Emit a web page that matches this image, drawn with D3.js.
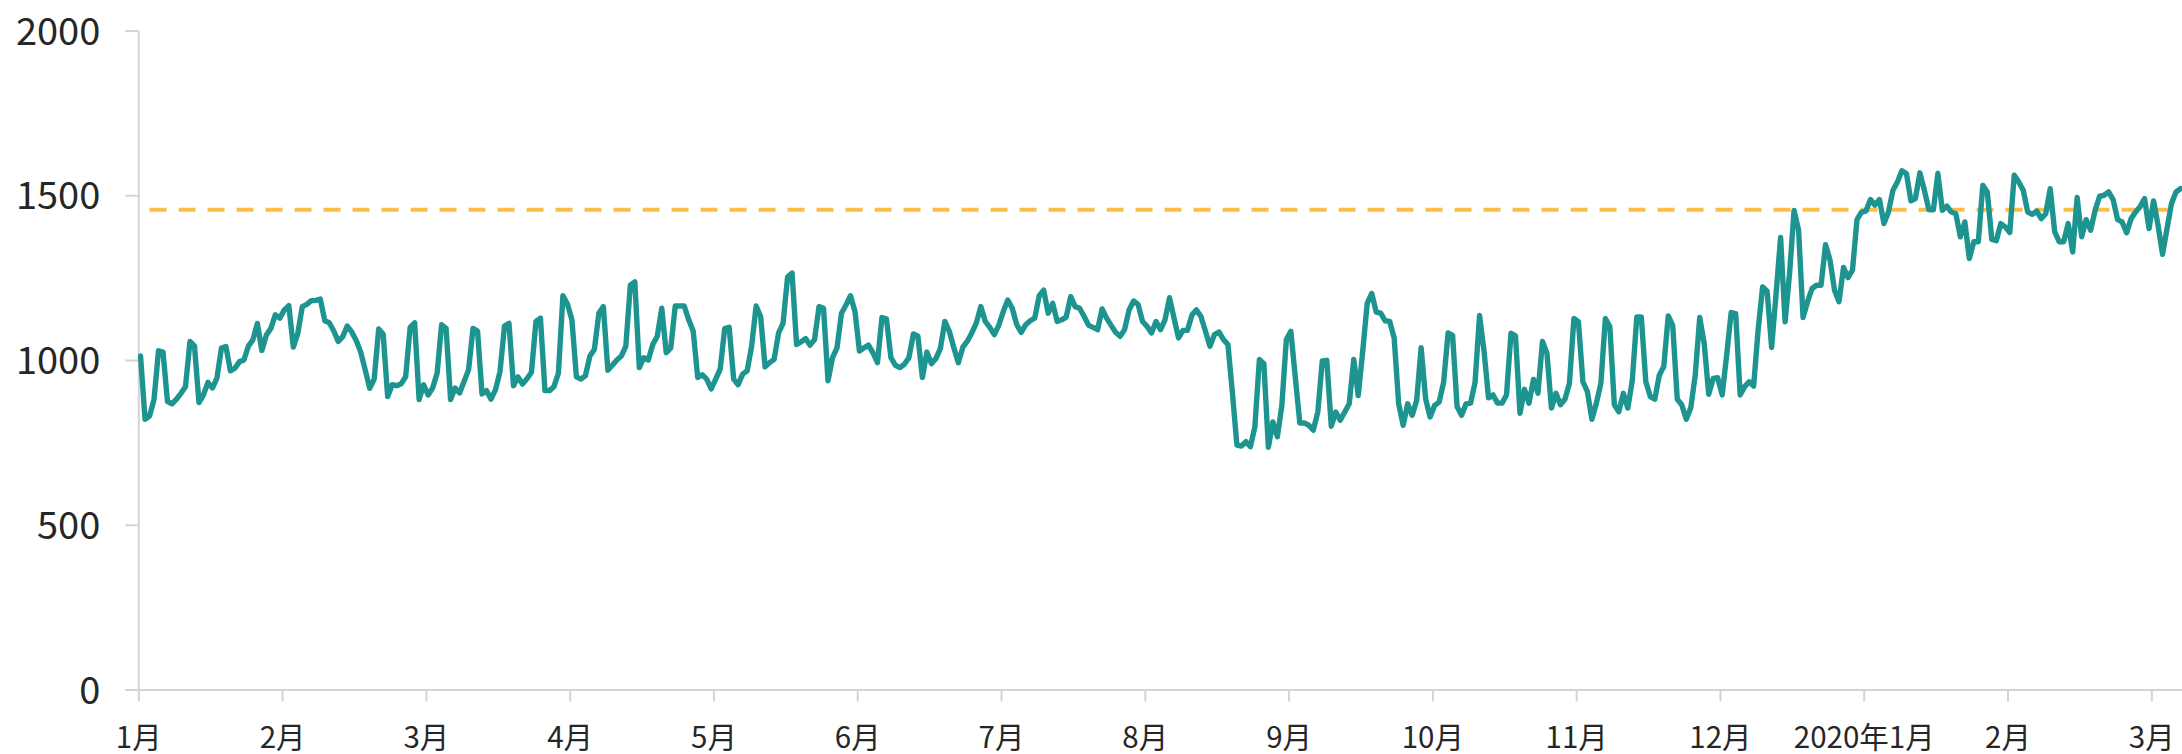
<!DOCTYPE html>
<html>
<head>
<meta charset="utf-8">
<script src="https://cdn.jsdelivr.net/npm/d3@7"></script>
<style>
  html, body { margin: 0; padding: 0; background: #ffffff; }
  svg { display: block; }
</style>
</head>
<body>
<div id="chart"></div>
<script>
// ---- data ----
const values = [
  1012, 820, 830, 880, 1028, 1024, 874, 867, 881, 899,
  919, 1056, 1043, 871, 894, 932, 915, 945, 1036, 1041,
  967, 975, 995, 1000, 1042, 1061, 1111, 1029, 1076, 1096,
  1137, 1127, 1152, 1165, 1039, 1081, 1162, 1169, 1180, 1181,
  1185, 1119, 1113, 1088, 1056, 1071, 1103, 1085, 1059, 1024,
  970, 914, 942, 1094, 1078, 889, 925, 922, 928, 949,
  1099, 1113, 880, 925, 894, 915, 960, 1107, 1096, 880,
  915, 900, 935, 970, 1096, 1088, 897, 907, 881, 910,
  965, 1103, 1111, 922, 949, 927, 943, 963, 1117, 1127,
  907, 907, 919, 960, 1195, 1170, 1122, 949, 942, 952,
  1012, 1032, 1142, 1162, 969, 984, 1000, 1012, 1042, 1227,
  1237, 977, 1007, 1000, 1047, 1072, 1157, 1022, 1037, 1164,
  1164, 1164, 1122, 1087, 947, 955, 942, 912, 942, 972,
  1095, 1099, 942, 925, 957, 967, 1042, 1164, 1132, 979,
  992, 1002, 1082, 1112, 1252, 1264, 1047, 1055, 1065, 1045,
  1062, 1162, 1157, 937, 1007, 1037, 1142, 1167, 1195, 1147,
  1027, 1037, 1045, 1022, 992, 1129, 1125, 1007, 984, 977,
  987, 1007, 1079, 1072, 947, 1024, 989, 1004, 1035, 1117,
  1087, 1037, 992, 1039, 1057, 1082, 1112, 1162, 1117, 1099,
  1077, 1105, 1147, 1182, 1157, 1107, 1084, 1107, 1119, 1127,
  1195, 1212, 1142, 1172, 1117, 1122, 1130, 1192, 1162, 1157,
  1132, 1105, 1099, 1092, 1155, 1127, 1105, 1084, 1072, 1092,
  1152, 1179, 1169, 1117, 1102, 1082, 1117, 1092, 1122, 1189,
  1127, 1067, 1090, 1090, 1137, 1152, 1132, 1087, 1042, 1077,
  1085, 1062, 1047, 900, 742, 739, 752, 737, 797, 1002,
  989, 735, 812, 767, 862, 1062, 1087, 947, 809, 809,
  802, 787, 842, 997, 999, 799, 842, 817, 842, 867,
  1002, 892, 1027, 1172, 1202, 1145, 1142, 1119, 1117, 1067,
  867, 802, 867, 832, 877, 1037, 882, 827, 862, 872,
  932, 1082, 1075, 859, 832, 867, 869, 932, 1135, 1027,
  885, 894, 869, 869, 894, 1081, 1073, 838, 911, 869,
  941, 899, 1056, 1020, 854, 899, 864, 881, 929, 1126,
  1116, 934, 904, 820, 869, 929, 1126, 1101, 864, 843,
  899, 854, 939, 1131, 1131, 934, 889, 881, 954, 980,
  1134, 1104, 881, 864, 820, 854, 954, 1129, 1050, 896,
  944, 946, 894, 1015, 1144, 1141, 894, 919, 934, 921,
  1091, 1222, 1209, 1038, 1202, 1372, 1116, 1263, 1454, 1394,
  1129, 1177, 1217, 1227, 1227, 1350, 1303, 1212, 1177, 1281,
  1250, 1273, 1426, 1449, 1452, 1487, 1470, 1487, 1414, 1449,
  1515, 1540, 1574, 1566, 1483, 1490, 1568, 1515, 1456, 1456,
  1566, 1454, 1467, 1449, 1444, 1374, 1419, 1308, 1359, 1359,
  1530, 1510, 1366, 1362, 1414, 1404, 1387, 1561, 1540, 1515,
  1449, 1442, 1452, 1429, 1444, 1520, 1389, 1359, 1359, 1414,
  1328, 1493, 1374, 1426, 1394, 1454, 1497, 1500, 1510, 1487,
  1426, 1419, 1386, 1429, 1449, 1465, 1490, 1399, 1483, 1409,
  1321, 1399, 1475, 1510, 1520
];
const tickPositions = [0, 32, 64, 96, 128, 160, 192, 224, 256, 288, 320, 352, 384, 416, 448];
const tickLabels = ["1月","2月","3月","4月","5月","6月","7月","8月","9月","10月","11月","12月","2020年1月","2月","3月"];
const yTicks = [0, 500, 1000, 1500, 2000];
const refValue = 1456;
const refStart = 2, refEnd = 453;

// ---- layout ----
const W = 2182, H = 754;
const plotLeft = 138.3, plotBottom = 689.5, plotTop = 30.5;
const step = (2151.3 - plotLeft) / 448;

const svg = d3.select("#chart").append("svg")
  .attr("width", W).attr("height", H)
  .attr("viewBox", `0 0 ${W} ${H}`);
svg.append("rect").attr("width", W).attr("height", H).attr("fill", "#ffffff");

const x = d3.scaleLinear().domain([0, 455]).range([plotLeft, plotLeft + 455 * step]);
const y = d3.scaleLinear().domain([0, 2000]).range([plotBottom, plotTop]);

const axisColor = "#d4d4d4";
const textColor = "#262626";

// y axis
const gy = svg.append("g").attr("transform", `translate(${plotLeft},0)`)
  .call(d3.axisLeft(y).tickValues(yTicks).tickFormat(d3.format("d"))
    .tickSize(13).tickSizeOuter(0).tickPadding(25));
gy.select(".domain").attr("stroke", axisColor).attr("stroke-width", 2);
gy.selectAll(".tick line").attr("stroke", axisColor).attr("stroke-width", 2);
gy.selectAll(".tick text")
  .attr("dy", "0.36em")
  .attr("fill", textColor)
  .style("font-family", "'Noto Sans CJK SC', 'Noto Sans', sans-serif")
  .style("font-size", "38px");

// x axis
const gx = svg.append("g").attr("transform", `translate(0,${plotBottom})`)
  .call(d3.axisBottom(x).tickValues(tickPositions)
    .tickFormat((d, i) => tickLabels[i]).tickSize(12).tickSizeOuter(0));
gx.select(".domain").attr("stroke", axisColor).attr("stroke-width", 2);
gx.selectAll(".tick line").attr("stroke", axisColor).attr("stroke-width", 2);
gx.selectAll(".tick text")
  .attr("y", 58).attr("dy", null)
  .attr("fill", textColor)
  .style("font-family", "'Noto Sans CJK SC', 'Noto Sans', sans-serif")
  .style("font-size", "29.5px");

// reference dashed line
svg.append("line")
  .attr("x1", x(refStart + 0.5)).attr("x2", x(refEnd + 0.5))
  .attr("y1", y(refValue)).attr("y2", y(refValue))
  .attr("stroke", "#fbbe46")
  .attr("stroke-width", 4)
  .attr("stroke-dasharray", "17,12");

// main line
const line = d3.line()
  .x((d, i) => x(i + 0.5))
  .y(d => y(d));
svg.append("path")
  .datum(values)
  .attr("d", line)
  .attr("fill", "none")
  .attr("stroke", "#1e9490")
  .attr("stroke-width", 5.4)
  .attr("stroke-linejoin", "round")
  .attr("stroke-linecap", "round");
</script>
</body>
</html>
